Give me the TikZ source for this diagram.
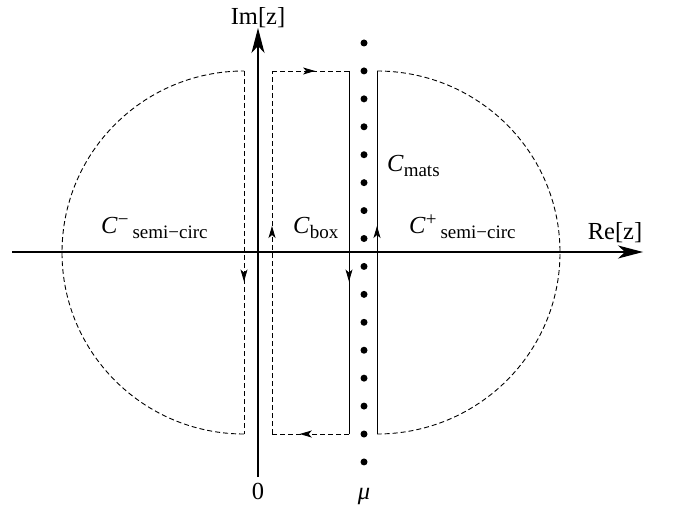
\documentclass[tikz,border=0pt]{standalone}
\usepackage{fontspec}
\setmainfont{Liberation Serif}
\usetikzlibrary{arrows.meta,decorations.markings}
\newcommand{\subtxt}[1]{\raisebox{-5pt}{\fontsize{19}{19}\selectfont #1}}
\newcommand{\suptxt}[1]{\raisebox{9pt}{\fontsize{19}{19}\selectfont #1}}
\begin{document}
\begin{tikzpicture}[x=1pt,y=-1pt,
  lbl/.style={inner sep=0pt,font=\fontsize{24.5}{24.5}\selectfont},
  axis/.style={line width=1.2pt,-{Stealth[length=25pt,width=13pt,inset=7pt]}},
  cont/.style={line width=0.9pt},
  dsh/.style={cont,dash pattern=on 5pt off 3pt},
  dotn/.style={circle,fill=black,inner sep=0pt,minimum size=7pt},
  midarrow/.style={postaction=decorate,decoration={markings,mark=at position #1 with {\arrow{Stealth[length=12pt,width=7pt,inset=3pt]}}}}]
\useasboundingbox (0,0) rectangle (676,510);
% axes
\coordinate (xs) at (12,252);
\coordinate (xe) at (643,252);
\coordinate (ys) at (258,477);
\coordinate (ye) at (258,28);
\draw[axis] (xs) -- (xe);
\draw[axis] (ys) -- (ye);
% Matsubara dots
\foreach \i in {0,...,15} {
  \node[dotn] (d\i) at (364,{43+27.93*\i}) {};
}
% box contour
\coordinate (bl) at (272,434);
\coordinate (tl) at (272,71);
\coordinate (tr) at (349,71);
\coordinate (br) at (349,434);
\draw[dsh,midarrow=0.573] (bl) -- (tl);
\draw[dsh,midarrow=0.56] (tl) -- (tr);
\draw[cont,midarrow=0.58] (tr) -- (br);
\draw[dsh,midarrow=0.64] (br) -- (bl);
% right semicircle contour
\coordinate (rb) at (377,434);
\coordinate (rt) at (377,71);
\draw[cont,midarrow=0.573] (rb) -- (rt);
\draw[dsh] (rt) arc[start angle=-90,end angle=90,x radius=183,y radius=181.5];
% left semicircle contour
\coordinate (lt) at (244,71);
\coordinate (lb) at (244,434);
\draw[dsh,midarrow=0.58] (lt) -- (lb);
\draw[dsh] (lb) arc[start angle=90,end angle=270,x radius=182,y radius=181.5];
% labels
\node[lbl,anchor=base] (im) at (258,25) {Im[z]};
\node[lbl,anchor=base] (re) at (615,240) {Re[z]};
\node[lbl,anchor=base] (zero) at (258,499) {0};
\node[lbl,anchor=base] (mu) at (364,499) {\textit{μ}};
\node[lbl,anchor=base west] (cmats) at (387,172) {\textit{C}\subtxt{mats}};
\node[lbl,anchor=base west] (cbox) at (293,234) {\textit{C}\subtxt{box}};
\node[lbl,anchor=base west] (cminus) at (101,234) {\textit{C}\suptxt{−}\,\subtxt{semi−circ}};
\node[lbl,anchor=base west] (cplus) at (409,234) {\textit{C}\suptxt{+}\,\subtxt{semi−circ}};
\end{tikzpicture}
\end{document}
